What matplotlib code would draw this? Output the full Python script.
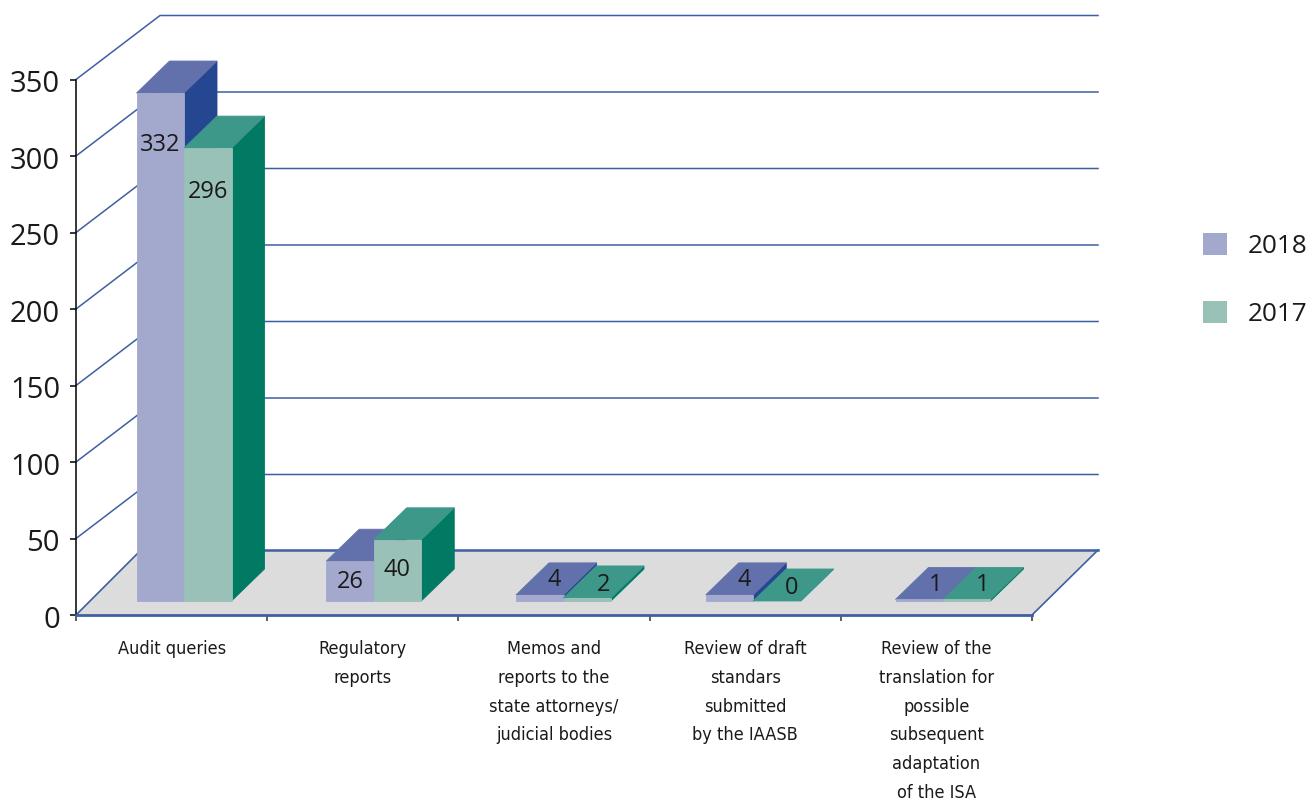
import matplotlib
matplotlib.use("Agg")
import matplotlib.pyplot as plt
from matplotlib.patches import Polygon, Patch
from matplotlib.transforms import ScaledTranslation
from matplotlib import font_manager as fm

# data
categories = [
    "Audit queries",
    "Regulatory\nreports",
    "Memos and\nreports to the\nstate attorneys/\njudicial bodies",
    "Review of draft\nstandars\nsubmitted\nby the IAASB",
    "Review of the\ntranslation for\npossible\nsubsequent\nadaptation\nof the ISA",
]
values_2018 = [332, 26, 4, 4, 1]
values_2017 = [296, 40, 2, 0, 1]
y_ticks = [0, 50, 100, 150, 200, 250, 300, 350]

# label position relative to the top of the front face, in pixels
drop_2018 = [52, 21, -15, -15, -14]
drop_2017 = [44, 30, -13, -13, -14]
shift_2018 = [0, 0, 15, 15, 16]
shift_2017 = [0, 0, 16, 15, 16]

# colours: front, top, side
COL_2018 = ("#A3A9CD", "#6271AB", "#254792")
COL_2017 = ("#9AC1B7", "#3E988A", "#007A63")
BLUE = "#3F5FA3"
FLOOR = "#DCDCDC"
TEXT = "#1A1A1A"

plt.rcParams["font.family"] = ["Open Sans", "DejaVu Sans"]

# condensed face for the category labels, if there is one
condensed = [f for f in fm.fontManager.ttflist
             if f.stretch in ("condensed", "semi-condensed", "extra-condensed")
             and f.style == "normal" and f.weight in (400, "normal", "regular")]
if condensed:
    cat_font = fm.FontProperties(fname=condensed[0].fname)
    cat_size = 13.0
else:
    cat_font = fm.FontProperties(family="Lato")
    cat_size = 13.6

W, H = 1307, 801
fig = plt.figure(figsize=(W / 100, H / 100), dpi=100, facecolor="white")

# plot area front face in pixels
left, right, top, bottom = 76, 1032, 79.5, 615
ax = fig.add_axes([left / W, 1 - bottom / H, (right - left) / W, (bottom - top) / H])
ax.set_xlim(0, len(categories))
ax.set_ylim(0, 350)
ax.patch.set_visible(False)

# one pixel in data units
PX = len(categories) / (right - left)
PY = 350 / (bottom - top)

WALL_DX, WALL_DY = 84, 64
FLOOR_DX, FLOOR_DY = 65, 65
BACK_RIGHT = 66
BAR_W = 47.5
BAR_DX, BAR_DY = 33, 32
FIRST_MID, BAR_STEP = 108, 189.75
BASE_DY = 14


def poly(points, color, z, edge=None):
    ax.add_patch(Polygon(points, closed=True, facecolor=color, edgecolor=edge or color,
                         linewidth=0.6, zorder=z, clip_on=False))


# floor
n = len(categories)
poly([(0, 0), (FLOOR_DX * PX, FLOOR_DY * PY), (n + BACK_RIGHT * PX, FLOOR_DY * PY), (n, 0)], FLOOR, 1)
ax.plot([0, FLOOR_DX * PX], [0, FLOOR_DY * PY], color=BLUE, lw=1.2, zorder=2, clip_on=False)
ax.plot([n, n + BACK_RIGHT * PX], [0, FLOOR_DY * PY], color=BLUE, lw=1.2, zorder=2, clip_on=False)
ax.plot([FLOOR_DX * PX, n + BACK_RIGHT * PX], [FLOOR_DY * PY] * 2, color=BLUE, lw=1.8, zorder=2, clip_on=False)

# walls
for t in y_ticks[1:]:
    ax.plot([0, WALL_DX * PX, n + BACK_RIGHT * PX],
            [t, t + WALL_DY * PY, t + WALL_DY * PY],
            color=BLUE, lw=1.1, zorder=2, clip_on=False)


def bar_3d(x0, val, cols, z):
    x1 = x0 + BAR_W * PX
    y0 = BASE_DY * PY
    y1 = y0 + val
    dx, dy = BAR_DX * PX, BAR_DY * PY
    front, roof, side = cols
    poly([(x1, y0), (x1 + dx, y0 + dy), (x1 + dx, y1 + dy), (x1, y1)], side, z)
    poly([(x0, y1), (x1, y1), (x1 + dx, y1 + dy), (x0 + dx, y1 + dy)], roof, z)
    if val > 0:
        poly([(x0, y0), (x1, y0), (x1, y1), (x0, y1)], front, z)


for i in range(n):
    mid = (FIRST_MID + BAR_STEP * i) * PX
    x_a = mid - BAR_W * PX
    bar_3d(x_a, values_2018[i], COL_2018, 3 + i * 2)
    bar_3d(mid, values_2017[i], COL_2017, 4 + i * 2)
    rows = ((x_a, values_2018[i], drop_2018[i], shift_2018[i]),
            (mid, values_2017[i], drop_2017[i], shift_2017[i]))
    for x0, val, drop, shift in rows:
        ax.text(x0 + (BAR_W / 2 + shift) * PX, BASE_DY * PY + val - drop * PY, str(val),
                ha="center", va="center", fontsize=17, color=TEXT, zorder=30)

# axes
for s in ("top", "right"):
    ax.spines[s].set_visible(False)
ax.spines["left"].set_color("black")
ax.spines["left"].set_linewidth(1.1)
ax.spines["bottom"].set_color(BLUE)
ax.spines["bottom"].set_linewidth(2)
ax.spines["bottom"].set_zorder(20)

ax.set_yticks(y_ticks)
ax.tick_params(axis="y", labelsize=21, labelcolor=TEXT, length=4.5, width=1.1, pad=7)
nudge = ScaledTranslation(0, -1.2 / 72, fig.dpi_scale_trans)
for lab in ax.get_yticklabels():
    lab.set_transform(lab.get_transform() + nudge)
ax.set_xticks(range(n + 1))
ax.set_xticklabels([])
ax.tick_params(axis="x", which="major", length=4.5, width=1.1, color="#333333")
ax.set_xticks([i + 0.5 for i in range(n)], minor=True)
ax.set_xticklabels(categories, minor=True, fontproperties=cat_font, fontsize=cat_size, color=TEXT,
                   linespacing=1.77, va="top", ha="center")
ax.tick_params(axis="x", which="minor", length=0, pad=18)

# legend
handles = [Patch(facecolor=COL_2018[0], label="2018"), Patch(facecolor=COL_2017[0], label="2017")]
fig.legend(handles=handles, loc="center left", bbox_to_anchor=(1203 / W, 1 - 280 / H),
           frameon=False, fontsize=18.8, labelcolor=TEXT, handlelength=0.9, handleheight=0.9,
           handletextpad=0.82, labelspacing=1.6, borderpad=0, borderaxespad=0)

fig.savefig("out.png", dpi=100, facecolor="white")
